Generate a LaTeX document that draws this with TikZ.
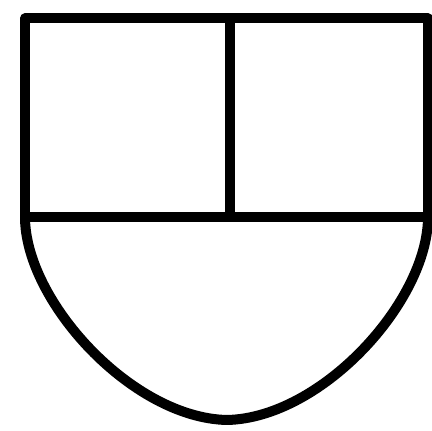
\documentclass[tikz,border=0pt]{standalone}
\begin{document}
\begin{tikzpicture}[x=1pt, y=1pt, line width=10pt, line join=round]

  % --- 1. 枠 ---
  \useasboundingbox (0,0) rectangle (432,431);

  % --- 2. 上の二つの四角 ---
  \draw (25,214) -- (25,412.5) -- (428,412.5) -- (428,214);
  \draw (25,214) -- (428,214);
  \draw (230,412.5) -- (230,214);

  % --- 3. 下の曲線 ---
  \draw (25,214) .. controls (25,130) and (132,13) .. (227,11)
        .. controls (322,13) and (428,130) .. (428,214);

\end{tikzpicture}
\end{document}
